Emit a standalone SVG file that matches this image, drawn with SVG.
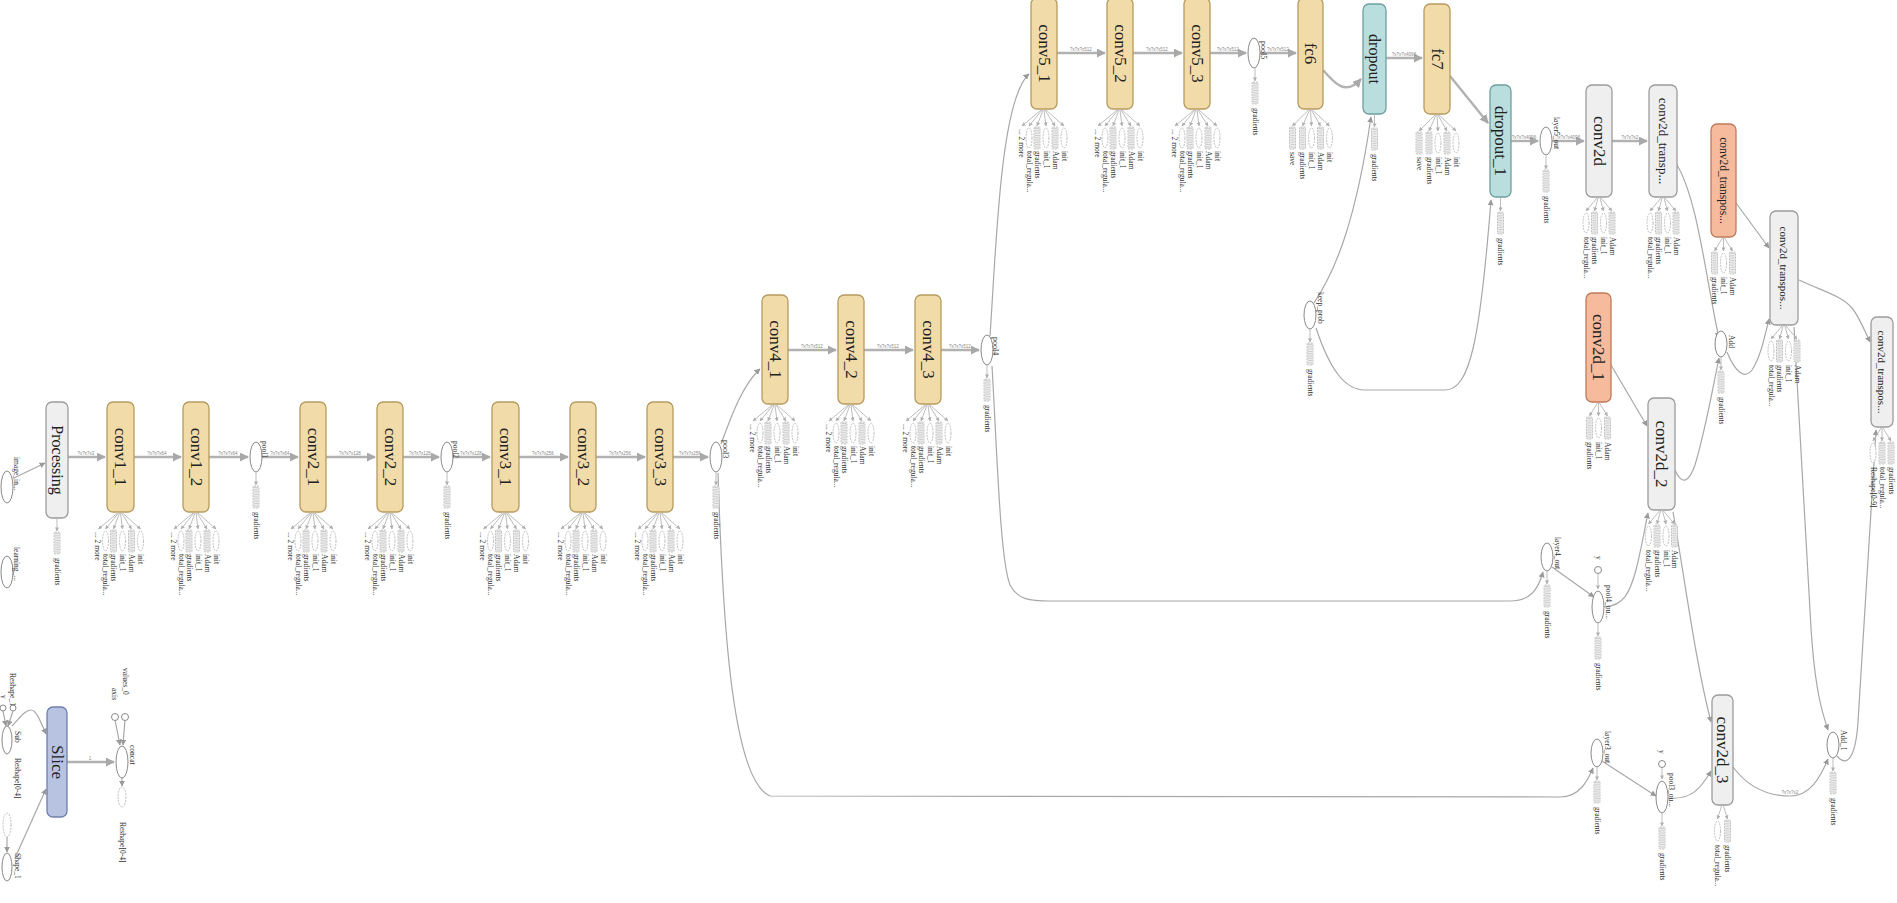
<svg xmlns="http://www.w3.org/2000/svg" xmlns:xlink="http://www.w3.org/1999/xlink" width="1897" height="903" viewBox="0 0 1897 903">
<style>
  .bx{stroke-width:1.3}
  .tan{fill:#f1dba9;stroke:#b79b5f}
  .teal{fill:#badddd;stroke:#6f9f9f}
  .org{fill:#f6ba9c;stroke:#c07b5b}
  .gry{fill:#efefef;stroke:#9c9c9c}
  .blu{fill:#b8c3e2;stroke:#6e7fae}
  .op{fill:#fff;stroke:#8a8a8a;stroke-width:1}
  .d{fill:#fff;stroke:#b0b0b0;stroke-width:0.8;stroke-dasharray:2 1}
  .f{fill:none;stroke:#b5b5b5;stroke-width:0.9;marker-end:url(#as)}
  .e{fill:none;stroke:#a8a8a8;stroke-width:1.2;marker-end:url(#ae)}
  .m{fill:none;stroke:#b2b2b2;stroke-width:2.4;marker-end:url(#am)}
  .bl{font-family:"Liberation Serif",serif;font-size:17px;fill:#222;text-anchor:middle;dominant-baseline:central}
  .s{font-family:"Liberation Serif",serif;font-size:7.5px;fill:#333;dominant-baseline:central}
  .t{font-family:"Liberation Serif",serif;font-size:7.5px;fill:#333;dominant-baseline:central}
  .el{font-family:"Liberation Sans",sans-serif;font-size:4.5px;fill:#888;text-anchor:middle}
</style>
<defs>
  <marker id="as" viewBox="0 0 10 10" refX="9" refY="5" markerWidth="4" markerHeight="4" markerUnits="userSpaceOnUse" orient="auto"><path d="M0,0L10,5L0,10z" fill="#b0b0b0"/></marker>
  <marker id="ae" viewBox="0 0 10 10" refX="9" refY="5" markerWidth="6" markerHeight="6" markerUnits="userSpaceOnUse" orient="auto"><path d="M0,0L10,5L0,10z" fill="#9a9a9a"/></marker>
  <marker id="am" viewBox="0 0 10 10" refX="9" refY="5" markerWidth="9" markerHeight="9" markerUnits="userSpaceOnUse" orient="auto"><path d="M0,0L10,5L0,10z" fill="#a8a8a8"/></marker>

  <!-- stacked "series" node -->
  <g id="ser">
    <rect x="-3" y="0" width="6" height="22" rx="1" fill="#ececec" stroke="#b5b5b5" stroke-width="0.8" stroke-dasharray="2 1"/>
    <path d="M0 1V21" stroke="#cfcfcf" stroke-width="4" stroke-dasharray="1 1.3"/>
  </g>

  <!-- conv layer outputs -->
  <g id="fan6">
    <path class="f" d="M-3 1L-22 17"/><path class="f" d="M-2 1L-15 17"/><path class="f" d="M-1 1L-7 17"/>
    <path class="f" d="M0 1L2 17"/><path class="f" d="M1 1L11 17"/><path class="f" d="M2 1L20 17"/>
    <text class="s" transform="translate(-23,20) rotate(90)">... 2 more</text>
    <ellipse class="d" cx="-15" cy="29" rx="3" ry="10"/>
    <use href="#ser" xlink:href="#ser" x="-7" y="18"/>
    <ellipse class="d" cx="2" cy="29" rx="3" ry="10"/>
    <use href="#ser" xlink:href="#ser" x="11" y="18"/>
    <ellipse class="d" cx="20" cy="29" rx="3" ry="10"/>
    <text class="s" transform="translate(-15,42) rotate(90)">total_regula...</text>
    <text class="s" transform="translate(-7,42) rotate(90)">gradients</text>
    <text class="s" transform="translate(2,42) rotate(90)">init_1</text>
    <text class="s" transform="translate(11,42) rotate(90)">Adam</text>
    <text class="s" transform="translate(20,42) rotate(90)">init</text>
  </g>

  <!-- fully connected outputs -->
  <g id="fan5">
    <path class="f" d="M-2 1L-18 17"/><path class="f" d="M-1 1L-8 17"/><path class="f" d="M0 1L1 17"/>
    <path class="f" d="M1 1L10 17"/><path class="f" d="M2 1L19 17"/>
    <use href="#ser" xlink:href="#ser" x="-18" y="18"/>
    <use href="#ser" xlink:href="#ser" x="-8" y="18"/>
    <ellipse class="d" cx="1" cy="29" rx="3" ry="10"/>
    <use href="#ser" xlink:href="#ser" x="10" y="18"/>
    <ellipse class="d" cx="19" cy="29" rx="3" ry="10"/>
    <text class="s" transform="translate(-18,43) rotate(90)">save</text>
    <text class="s" transform="translate(-8,43) rotate(90)">gradients</text>
    <text class="s" transform="translate(1,43) rotate(90)">init_1</text>
    <text class="s" transform="translate(10,43) rotate(90)">Adam</text>
    <text class="s" transform="translate(19,43) rotate(90)">init</text>
  </g>

  <g id="fan4">
    <path class="f" d="M-2 1L-13 14"/><path class="f" d="M-1 1L-4.5 14"/><path class="f" d="M1 1L4.5 14"/><path class="f" d="M2 1L13 14"/>
    <ellipse class="d" cx="-13" cy="26" rx="3" ry="10"/>
    <use href="#ser" xlink:href="#ser" x="-4.5" y="15"/>
    <ellipse class="d" cx="4.5" cy="26" rx="3" ry="10"/>
    <use href="#ser" xlink:href="#ser" x="13" y="15"/>
    <text class="s" transform="translate(-13,40) rotate(90)">total_regula...</text>
    <text class="s" transform="translate(-4.5,40) rotate(90)">gradients</text>
    <text class="s" transform="translate(4.5,40) rotate(90)">init_1</text>
    <text class="s" transform="translate(13,40) rotate(90)">Adam</text>
  </g>

  <g id="fan3">
    <path class="f" d="M-1 1L-9 14"/><path class="f" d="M0 1L0 14"/><path class="f" d="M1 1L9 14"/>
    <use href="#ser" xlink:href="#ser" x="-9" y="15"/>
    <ellipse class="d" cx="0" cy="26" rx="3" ry="10"/>
    <use href="#ser" xlink:href="#ser" x="9" y="15"/>
    <text class="s" transform="translate(-9,40) rotate(90)">gradients</text>
    <text class="s" transform="translate(0,40) rotate(90)">init_1</text>
    <text class="s" transform="translate(9,40) rotate(90)">Adam</text>
  </g>

  <g id="fan3r">
    <path class="f" d="M-1 1L-9 14"/><path class="f" d="M0 1L0 14"/><path class="f" d="M1 1L9 14"/>
    <ellipse class="d" cx="-9" cy="26" rx="3" ry="10"/>
    <use href="#ser" xlink:href="#ser" x="0" y="15"/>
    <use href="#ser" xlink:href="#ser" x="9" y="15"/>
    <text class="s" transform="translate(-9,40) rotate(90)">Reshape[0-9]</text>
    <text class="s" transform="translate(0,40) rotate(90)">total_regula...</text>
    <text class="s" transform="translate(9,40) rotate(90)">gradients</text>
  </g>

  <g id="fan2">
    <path class="f" d="M-1 1L-5 14"/><path class="f" d="M1 1L5 14"/>
    <ellipse class="d" cx="-5" cy="26" rx="3" ry="10"/>
    <use href="#ser" xlink:href="#ser" x="5" y="15"/>
    <text class="s" transform="translate(-5,40) rotate(90)">total_regula...</text>
    <text class="s" transform="translate(5,40) rotate(90)">gradients</text>
  </g>

  <!-- single gradients output below an op -->
  <g id="gr">
    <path class="f" d="M0 0V13"/>
    <use href="#ser" xlink:href="#ser" x="0" y="14"/>
    <text class="s" transform="translate(0,40) rotate(90)">gradients</text>
  </g>
</defs>

<rect width="1897" height="903" fill="#fff"/>

<!-- connectors -->
<g id="edges">
  <!-- main chain -->
  <path class="m" d="M68 457H105"/><text class="el" x="86" y="455">?x?x?x3</text>
  <path class="m" d="M134 457H181"/><text class="el" x="157" y="455">?x?x?x64</text>
  <path class="m" d="M209 457H248"/><text class="el" x="228" y="455">?x?x?x64</text>
  <path class="m" d="M262 457H298"/><text class="el" x="280" y="455">?x?x?x64</text>
  <path class="m" d="M326 457H375"/><text class="el" x="350" y="455">?x?x?x128</text>
  <path class="m" d="M403 457H439"/><text class="el" x="420" y="455">?x?x?x128</text>
  <path class="m" d="M453 457H490"/><text class="el" x="471" y="455">?x?x?x128</text>
  <path class="m" d="M519 457H568"/><text class="el" x="543" y="455">?x?x?x256</text>
  <path class="m" d="M596 457H645"/><text class="el" x="620" y="455">?x?x?x256</text>
  <path class="m" d="M673 457H708"/><text class="el" x="690" y="455">?x?x?x256</text>
  <path class="e" d="M721 444C730 420 742 385 760 369"/>
  <path class="m" d="M788 350H836"/><text class="el" x="812" y="348">?x?x?x512</text>
  <path class="m" d="M864 350H913"/><text class="el" x="888" y="348">?x?x?x512</text>
  <path class="m" d="M941 350H979"/><text class="el" x="960" y="348">?x?x?x512</text>
  <path class="e" d="M990 336C996 250 1000 100 1029 74"/>
  <path class="m" d="M1057 53H1105"/><text class="el" x="1081" y="51">?x?x?x512</text>
  <path class="m" d="M1133 53H1182"/><text class="el" x="1157" y="51">?x?x?x512</text>
  <path class="m" d="M1210 53H1246"/><text class="el" x="1228" y="51">?x?x?x512</text>
  <path class="m" d="M1260 53H1296"/><text class="el" x="1278" y="51">?x?x?x512</text>
  <path class="m" d="M1323 70C1335 84 1346 96 1361 79"/>
  <path class="m" d="M1386 58H1422"/><text class="el" x="1404" y="56">?x?x?x4096</text>
  <path class="m" d="M1450 76L1488 123"/>
  <path class="m" d="M1511 141H1538"/><text class="el" x="1524" y="139">?x?x?x4096</text>
  <path class="m" d="M1552 141H1584"/><text class="el" x="1568" y="139">?x?x?x4096</text>
  <path class="m" d="M1612 141H1647"/><text class="el" x="1630" y="139">?x?x?x2</text>

  <!-- decoder -->
  <path class="e" d="M1677 165C1698 200 1706 280 1719 338"/>
  <path class="e" d="M1736 203L1769 248"/>
  <path class="e" d="M1727 352C1735 372 1745 380 1752 370C1760 358 1764 340 1769 319"/>
  <path class="e" d="M1799 280C1825 292 1842 296 1852 308C1860 318 1864 330 1870 342"/>
  <path class="e" d="M1794 327L1811 628C1815 690 1822 712 1828 730"/>
  <path class="e" d="M1837 756C1849 770 1856 752 1858 722L1876 430"/>
  <path class="e" d="M1733 767C1750 790 1770 796 1790 796C1810 796 1820 778 1828 759"/>
  <text class="el" x="1790" y="794">?x?x?x2</text>
  <path class="e" d="M1675 470C1682 486 1689 482 1695 465C1705 432 1712 392 1719 358"/>
  <path class="e" d="M1611 365L1647 426"/>
  <path class="e" d="M1673 512C1685 580 1695 660 1711 722"/>
  <path class="e" d="M1604 607C1624 606 1630 592 1636 570C1642 546 1645 527 1648 513"/>
  <path class="e" d="M1552 567L1594 597"/>
  <path class="e" d="M1602 761L1656 796"/>
  <path class="e" d="M1668 798C1690 800 1700 790 1711 771"/>

  <!-- skip connections -->
  <path class="e" d="M992 366C997 450 1000 560 1010 585C1018 600 1030 601 1050 601L1510 601C1530 601 1538 590 1543 572"/>
  <path class="e" d="M718 473C722 600 730 780 770 796L1560 797C1580 797 1588 780 1593 768"/>

  <!-- keep_prob -->
  <path class="e" d="M1314 303C1336 270 1356 220 1371 117"/>
  <path class="e" d="M1316 328C1330 370 1345 390 1365 390L1445 390C1470 390 1480 340 1491 200"/>

  <!-- input -->
  <path class="e" d="M14 478L45 463"/>

  <!-- slice block -->
  <path class="e" d="M3 711L6 726"/>
  <path class="e" d="M13 711L8 726"/>
  <path class="e" d="M12 726C20 718 25 710 31 710C36 710 40 720 46 734"/>
  <path class="e" d="M7 837V852"/>
  <path class="e" d="M15 858L46 789"/>
  <path class="m" d="M67 762H114"/><text class="el" x="90" y="760">1</text>
  <path class="e" d="M115 720L120 745"/>
  <path class="e" d="M125 720L123 745"/>
  <path class="e" d="M122 778V786"/>
</g>

<!-- input nodes -->
<g id="n-image_in">
  <ellipse class="op" cx="7" cy="487" rx="6" ry="16"/>
  <text class="t" transform="translate(16,457) rotate(90)">image_in...</text>
</g>
<g id="n-learning">
  <ellipse class="op" cx="7" cy="572" rx="6" ry="16"/>
  <text class="t" transform="translate(16,547) rotate(90)">learning_...</text>
</g>

<g id="n-processing">
  <rect class="bx gry" x="46" y="402" width="22" height="116" rx="6"/>
  <text class="bl" transform="translate(57,460) rotate(90)" style="font-size:16px">Processing</text>
  <use href="#gr" xlink:href="#gr" x="57" y="518"/>
</g>

<g id="n-conv1_1"><rect class="bx tan" x="107" y="402" width="27" height="110" rx="6"/><text class="bl" transform="translate(120.5,457) rotate(90)">conv1_1</text><use href="#fan6" xlink:href="#fan6" x="120.5" y="512"/></g>
<g id="n-conv1_2"><rect class="bx tan" x="183" y="402" width="26" height="110" rx="6"/><text class="bl" transform="translate(196,457) rotate(90)">conv1_2</text><use href="#fan6" xlink:href="#fan6" x="196" y="512"/></g>
<g id="n-pool1"><ellipse class="op" cx="256" cy="457" rx="6" ry="15"/><text class="t" transform="translate(264,441) rotate(90)">pool1</text><use href="#gr" xlink:href="#gr" x="256" y="472"/></g>
<g id="n-conv2_1"><rect class="bx tan" x="300" y="402" width="26" height="110" rx="6"/><text class="bl" transform="translate(313,457) rotate(90)">conv2_1</text><use href="#fan6" xlink:href="#fan6" x="313" y="512"/></g>
<g id="n-conv2_2"><rect class="bx tan" x="377" y="402" width="26" height="110" rx="6"/><text class="bl" transform="translate(390,457) rotate(90)">conv2_2</text><use href="#fan6" xlink:href="#fan6" x="390" y="512"/></g>
<g id="n-pool2"><ellipse class="op" cx="447" cy="457" rx="6" ry="15"/><text class="t" transform="translate(455,441) rotate(90)">pool2</text><use href="#gr" xlink:href="#gr" x="447" y="472"/></g>
<g id="n-conv3_1"><rect class="bx tan" x="492" y="402" width="27" height="110" rx="6"/><text class="bl" transform="translate(505.5,457) rotate(90)">conv3_1</text><use href="#fan6" xlink:href="#fan6" x="505.5" y="512"/></g>
<g id="n-conv3_2"><rect class="bx tan" x="570" y="402" width="26" height="110" rx="6"/><text class="bl" transform="translate(583,457) rotate(90)">conv3_2</text><use href="#fan6" xlink:href="#fan6" x="583" y="512"/></g>
<g id="n-conv3_3"><rect class="bx tan" x="647" y="402" width="26" height="110" rx="6"/><text class="bl" transform="translate(660,457) rotate(90)">conv3_3</text><use href="#fan6" xlink:href="#fan6" x="660" y="512"/></g>
<g id="n-pool3"><ellipse class="op" cx="716" cy="457" rx="6" ry="15"/><text class="t" transform="translate(725,440) rotate(90)" style="font-size:8px">pool3</text><use href="#gr" xlink:href="#gr" x="716" y="472"/></g>

<g id="n-conv4_1"><rect class="bx tan" x="762" y="295" width="26" height="109" rx="6"/><text class="bl" transform="translate(775,349.5) rotate(90)">conv4_1</text><use href="#fan6" xlink:href="#fan6" x="775" y="404"/></g>
<g id="n-conv4_2"><rect class="bx tan" x="838" y="295" width="26" height="109" rx="6"/><text class="bl" transform="translate(851,349.5) rotate(90)">conv4_2</text><use href="#fan6" xlink:href="#fan6" x="851" y="404"/></g>
<g id="n-conv4_3"><rect class="bx tan" x="915" y="295" width="26" height="109" rx="6"/><text class="bl" transform="translate(928,349.5) rotate(90)">conv4_3</text><use href="#fan6" xlink:href="#fan6" x="928" y="404"/></g>
<g id="n-pool4"><ellipse class="op" cx="987" cy="350" rx="6" ry="15"/><text class="t" transform="translate(995,337) rotate(90)" style="font-size:8px">pool4</text><use href="#gr" xlink:href="#gr" x="987" y="365"/></g>

<g id="n-conv5_1"><rect class="bx tan" x="1031" y="-2" width="26" height="111" rx="6"/><text class="bl" transform="translate(1044,53.5) rotate(90)">conv5_1</text><use href="#fan6" xlink:href="#fan6" x="1044" y="109"/></g>
<g id="n-conv5_2"><rect class="bx tan" x="1107" y="-2" width="26" height="111" rx="6"/><text class="bl" transform="translate(1120,53.5) rotate(90)">conv5_2</text><use href="#fan6" xlink:href="#fan6" x="1120" y="109"/></g>
<g id="n-conv5_3"><rect class="bx tan" x="1184" y="-2" width="26" height="111" rx="6"/><text class="bl" transform="translate(1197,53.5) rotate(90)">conv5_3</text><use href="#fan6" xlink:href="#fan6" x="1197" y="109"/></g>
<g id="n-pool5"><ellipse class="op" cx="1254" cy="53" rx="6" ry="15"/><text class="t" transform="translate(1263,41) rotate(90)" style="font-size:8px">pool5</text><use href="#gr" xlink:href="#gr" x="1255" y="68"/></g>
<g id="n-fc6"><rect class="bx tan" x="1298" y="-2" width="25" height="111" rx="6"/><text class="bl" transform="translate(1310.5,53.5) rotate(90)">fc6</text><use href="#fan5" xlink:href="#fan5" x="1310.5" y="109"/></g>
<g id="n-dropout"><rect class="bx teal" x="1363" y="4" width="23" height="110" rx="6"/><text class="bl" transform="translate(1374.5,59) rotate(90)" style="font-size:16px">dropout</text><use href="#gr" xlink:href="#gr" x="1374.5" y="114"/></g>
<g id="n-fc7"><rect class="bx tan" x="1424" y="4" width="26" height="110" rx="6"/><text class="bl" transform="translate(1437,59) rotate(90)">fc7</text><use href="#fan5" xlink:href="#fan5" x="1437" y="114"/></g>
<g id="n-keep_prob"><ellipse class="op" cx="1310" cy="315" rx="6" ry="14"/><text class="t" transform="translate(1320,292) rotate(90)">keep_prob</text><use href="#gr" xlink:href="#gr" x="1310" y="329"/></g>

<g id="n-dropout_1"><rect class="bx teal" x="1490" y="85" width="21" height="112" rx="6"/><text class="bl" transform="translate(1500.5,141) rotate(90)">dropout_1</text><use href="#gr" xlink:href="#gr" x="1500.5" y="198"/></g>
<g id="n-layer5_out"><ellipse class="op" cx="1546" cy="141" rx="6" ry="14"/><text class="t" transform="translate(1556,117) rotate(90)">layer5_out</text><use href="#gr" xlink:href="#gr" x="1546" y="156"/></g>
<g id="n-conv2d"><rect class="bx gry" x="1586" y="85" width="26" height="112" rx="6"/><text class="bl" transform="translate(1599,141) rotate(90)">conv2d</text><use href="#fan4" xlink:href="#fan4" x="1599" y="197"/></g>
<g id="n-conv2d_transpose"><rect class="bx gry" x="1649" y="85" width="28" height="112" rx="6"/><text class="bl" transform="translate(1663,141) rotate(90)" style="font-size:13px">conv2d_transp...</text><use href="#fan4" xlink:href="#fan4" x="1663" y="197"/></g>
<g id="n-conv2d_transpose_o"><rect class="bx org" x="1711" y="124" width="25" height="113" rx="6"/><text class="bl" transform="translate(1723.5,180.5) rotate(90)" style="font-size:11.5px">conv2d_transpos...</text><use href="#fan3" xlink:href="#fan3" x="1723.5" y="237"/></g>
<g id="n-conv2d_transpose_1"><rect class="bx gry" x="1770" y="211" width="28" height="114" rx="6"/><text class="bl" transform="translate(1784,268) rotate(90)" style="font-size:11px">conv2d_transpos...</text><use href="#fan4" xlink:href="#fan4" x="1784" y="325"/></g>
<g id="n-conv2d_transpose_2"><rect class="bx gry" x="1871" y="317" width="22" height="110" rx="6"/><text class="bl" transform="translate(1882,372) rotate(90)" style="font-size:11px">conv2d_transpos...</text><use href="#fan3r" xlink:href="#fan3r" x="1882" y="427"/></g>
<g id="n-add"><ellipse class="op" cx="1721" cy="344" rx="6" ry="13"/><text class="t" transform="translate(1731,335) rotate(90)">Add</text><use href="#gr" xlink:href="#gr" x="1721" y="357"/></g>

<g id="n-conv2d_1"><rect class="bx org" x="1586" y="293" width="25" height="109" rx="6"/><text class="bl" transform="translate(1598.5,347.5) rotate(90)">conv2d_1</text><use href="#fan3" xlink:href="#fan3" x="1598.5" y="402"/></g>
<g id="n-conv2d_2"><rect class="bx gry" x="1648" y="398" width="27" height="112" rx="6"/><text class="bl" transform="translate(1661.5,454) rotate(90)">conv2d_2</text><use href="#fan4" xlink:href="#fan4" x="1661.5" y="510"/></g>
<g id="n-layer4_out"><ellipse class="op" cx="1547" cy="557" rx="6" ry="14"/><text class="t" transform="translate(1557,537) rotate(90)">layer4_out</text><use href="#gr" xlink:href="#gr" x="1547" y="571"/></g>
<g id="n-y4"><circle class="op" cx="1598" cy="570" r="3.5"/><text class="t" transform="translate(1598,556) rotate(90)">y</text><path class="f" d="M1598 574V589"/></g>
<g id="n-pool4_out"><ellipse class="op" cx="1598" cy="607" rx="6" ry="16"/><text class="t" transform="translate(1608,585) rotate(90)">pool4_ou...</text><use href="#gr" xlink:href="#gr" x="1598" y="623"/></g>

<g id="n-layer3_out"><ellipse class="op" cx="1597" cy="753" rx="6" ry="14"/><text class="t" transform="translate(1607,731) rotate(90)">layer3_out</text><use href="#gr" xlink:href="#gr" x="1597" y="767"/></g>
<g id="n-y3"><circle class="op" cx="1662" cy="764" r="3.5"/><text class="t" transform="translate(1661,750) rotate(90)">y</text><path class="f" d="M1662 768V779"/></g>
<g id="n-pool3_out"><ellipse class="op" cx="1662" cy="797" rx="6" ry="16"/><text class="t" transform="translate(1671,773) rotate(90)">pool3_ou...</text><use href="#gr" xlink:href="#gr" x="1662" y="813"/></g>
<g id="n-conv2d_3"><rect class="bx gry" x="1712" y="695" width="21" height="110" rx="6"/><text class="bl" transform="translate(1722.5,750) rotate(90)">conv2d_3</text><use href="#fan2" xlink:href="#fan2" x="1722.5" y="805"/></g>
<g id="n-add_1"><ellipse class="op" cx="1833" cy="745" rx="6" ry="13"/><text class="t" transform="translate(1843,730) rotate(90)">Add_1</text><use href="#gr" xlink:href="#gr" x="1833" y="758"/></g>

<!-- slicing block -->
<g id="n-y_s"><circle class="op" cx="3" cy="708" r="3"/><text class="t" transform="translate(3,695) rotate(90)">y</text></g>
<g id="n-reshape_1"><circle class="op" cx="13" cy="708" r="3"/><text class="t" transform="translate(12,673) rotate(90)">Reshape_1</text></g>
<g id="n-sub"><ellipse class="op" cx="7" cy="740" rx="5" ry="14"/><text class="t" transform="translate(17,731) rotate(90)">Sub</text><text class="t" transform="translate(17,758) rotate(90)">Reshape[0-4]</text></g>
<g id="n-shape_d"><ellipse class="d" cx="7" cy="825" rx="4" ry="12"/></g>
<g id="n-shape_1"><ellipse class="op" cx="7" cy="867" rx="5" ry="14"/><text class="t" transform="translate(17,853) rotate(90)">Shape_1</text></g>
<g id="n-slice"><rect class="bx blu" x="47" y="707" width="20" height="110" rx="6"/><text class="bl" transform="translate(57,762) rotate(90)">Slice</text></g>
<g id="n-axis"><circle class="op" cx="115" cy="717" r="3.5"/><text class="t" transform="translate(114,688) rotate(90)">axis</text></g>
<g id="n-values_0"><circle class="op" cx="125" cy="717" r="3.5"/><text class="t" transform="translate(125,668) rotate(90)">values_0</text></g>
<g id="n-concat"><ellipse class="op" cx="122" cy="762" rx="6" ry="16"/><text class="t" transform="translate(132,745) rotate(90)">concat</text></g>
<g id="n-reshape"><ellipse class="d" cx="122" cy="797" rx="4" ry="10"/><text class="t" transform="translate(122,822) rotate(90)">Reshape[0-4]</text></g>
</svg>
